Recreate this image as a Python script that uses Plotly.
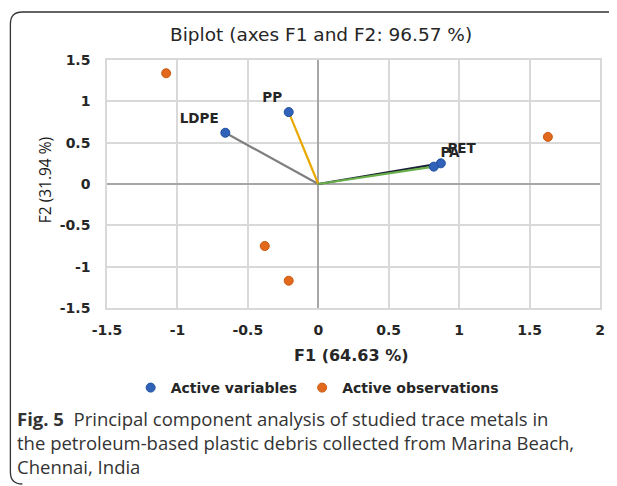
import plotly.graph_objects as go

# ---- data ----
var_names = ["LDPE", "PP", "PET", "PA"]
var_f1 = [-0.66, -0.21, 0.87, 0.82]
var_f2 = [0.62, 0.87, 0.25, 0.21]
obs_f1 = [-1.08, 1.63, -0.38, -0.21]
obs_f2 = [1.34, 0.57, -0.75, -1.17]
tick_vals_x = [-1.5, -1, -0.5, 0, 0.5, 1, 1.5, 2]
tick_text_x = ["-1.5", "-1", "-0.5", "0", "0.5", "1", "1.5", "2"]
tick_vals_y = [-1.5, -1, -0.5, 0, 0.5, 1, 1.5]
tick_text_y = ["-1.5", "-1", "-0.5", "0", "0.5", "1", "1.5"]
title_text = "Biplot (axes F1 and F2: 96.57 %)"
x_title = "F1 (64.63 %)"
y_title = "F2 (31.94 %)"
legend_names = ["Active variables", "Active observations"]
caption_lines = [
    "<b>Fig. 5</b>  Principal component analysis of studied trace metals in",
    "the petroleum-based plastic debris collected from Marina Beach,",
    "Chennai, India",
]

# ---- styles ----
OFF = 8  # browser default body margin
W, H = 617 - OFF, 486 - OFF
# plot area in page pixels: x 107..602, y 60..308
L, R, T, B = 107 - OFF, (617 - OFF) - (602 - OFF), 60 - OFF, (486 - OFF) - (308 - OFF)
line_colors = ["#7f7f7f", "#e8a800", "#1a2035", "#6ab04a"]
text_pos = ["top left", "top left", "top right", "top right"]
blue = "#2f62b8"
orange = "#e2691c"
tick_font = dict(family="DejaVu Sans", size=14, color="#262626", weight="bold")

pw, ph = W - L - R, H - T - B
def px(x):  # page pixel x -> paper
    return (x - OFF - L) / pw
def py(y):  # page pixel y -> paper
    return (H - B - (y - OFF)) / ph

fig = go.Figure()

for i, n in enumerate(var_names):
    fig.add_trace(go.Scatter(
        x=[0, var_f1[i]], y=[0, var_f2[i]], mode="lines",
        line=dict(color=line_colors[i], width=2.2),
        showlegend=False, hoverinfo="skip"))

fig.add_trace(go.Scatter(
    x=var_f1, y=var_f2, mode="markers+text", text=var_names,
    textposition=text_pos,
    textfont=dict(family="DejaVu Sans", size=13.5, color="#262626", weight="bold"),
    marker=dict(color=blue, size=9, line=dict(color="#1f4f9e", width=1)),
    name=legend_names[0]))

fig.add_trace(go.Scatter(
    x=obs_f1, y=obs_f2, mode="markers",
    marker=dict(color=orange, size=9, line=dict(color="#c95a12", width=1)),
    name=legend_names[1]))

axis_common = dict(
    showgrid=True, gridcolor="#d9d9d9", gridwidth=1.5,
    zeroline=True, zerolinecolor="#a6a6a6", zerolinewidth=2,
    showline=True, linecolor="#d9d9d9", linewidth=1.5, mirror=True,
    tickfont=tick_font, ticks="")

fig.update_layout(
    width=W, height=H, autosize=False,
    margin=dict(l=L, r=R, t=T, b=B),
    paper_bgcolor="white", plot_bgcolor="white",
    xaxis=dict(range=[-1.5, 2], tickvals=tick_vals_x, ticktext=tick_text_x,
               ticklabelstandoff=8, **axis_common),
    yaxis=dict(range=[-1.5, 1.5], tickvals=tick_vals_y, ticktext=tick_text_y,
               ticklabelstandoff=12, **axis_common),
    showlegend=True,
    legend=dict(orientation="h", x=px(318), xanchor="center", y=py(388), yanchor="middle",
                font=dict(family="DejaVu Sans", size=14, color="#262626", weight="bold"),
                itemwidth=30, bgcolor="rgba(0,0,0,0)"),
)

ann = []
ann.append(dict(text=title_text, x=px(322), y=py(34), xref="paper", yref="paper",
                showarrow=False, xanchor="center", yanchor="middle",
                font=dict(family="DejaVu Sans", size=18.5, color="#262626")))
ann.append(dict(text=x_title, x=px(352), y=py(355), xref="paper", yref="paper",
                showarrow=False, xanchor="center", yanchor="middle",
                font=dict(family="DejaVu Sans", size=16, color="#262626", weight="bold")))
ann.append(dict(text=y_title, x=px(45), y=py(180), xref="paper", yref="paper",
                showarrow=False, xanchor="center", yanchor="middle", textangle=-90,
                font=dict(family="Open Sans", size=15.5, color="#1a1a1a")))
for i, line in enumerate(caption_lines):
    ann.append(dict(text=line, x=px(15), y=py(418 + 24 * i), xref="paper", yref="paper",
                    showarrow=False, xanchor="left", yanchor="middle", align="left",
                    font=dict(family="Open Sans", size=18.5, color="#333333")))
fig.update_layout(annotations=ann)

# rounded frame (page pixels)
x0, y0, x1, y1, r = 10, 12, 640, 484, 12
path = (f"M {px(x0)},{py(y0 + r)} Q {px(x0)},{py(y0)} {px(x0 + r)},{py(y0)} "
        f"L {px(x1)},{py(y0)} M {px(x0)},{py(y0 + r)} "
        f"L {px(x0)},{py(y1 - r)} Q {px(x0)},{py(y1)} {px(x0 + r)},{py(y1)}")
fig.add_shape(type="path", path=path, xref="paper", yref="paper",
              line=dict(color="#333333", width=1.3), layer="above")

fig.write_html("out.html")
